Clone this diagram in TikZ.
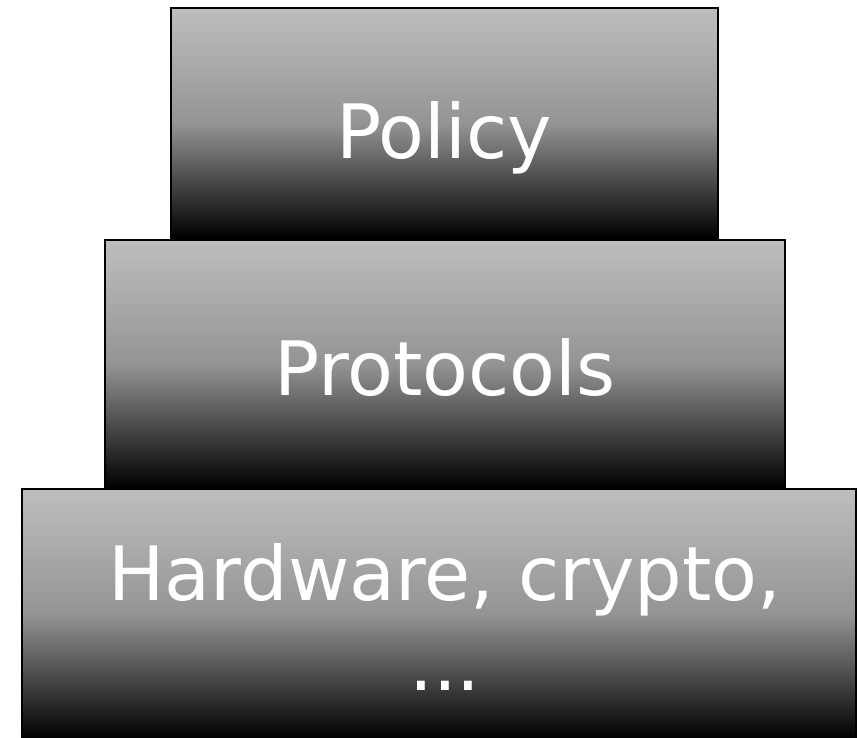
\documentclass[tikz,border=0pt]{standalone}
\usepackage{fontspec}
\setmainfont{DejaVu Sans}
\usepackage{xcolor}
\definecolor{layertop}{RGB}{190,190,190}
\definecolor{layermid}{RGB}{148,148,148}
\tikzset{
    layer-box/.style = {draw=black, line width=2pt, rectangle, inner sep=0pt, outer sep=0pt, anchor=north west,
        top color=layertop, bottom color=black, middle color=layermid},
    layer-title/.style = {text=white, anchor=base, align=center, inner sep=0pt, font=\fontsize{75}{90}\selectfont},
}

\begin{document}
\begin{tikzpicture}[x=1pt, y=-1pt]
\useasboundingbox (0,0) rectangle (858,737);
\node [layer-box, minimum width=547pt, minimum height=230pt] (policy) at (171,8) {};
\node [layer-box, minimum width=680pt, minimum height=248pt] (protocols) at (105,240) {};
\node [layer-box, minimum width=834pt, minimum height=250pt] (hardware) at (22,489) {};
\node[layer-title] (policy-title) at (444,158) {Policy};
\node[layer-title] (protocols-title) at (445,395) {Protocols};
\node[layer-title] (hardware-title) at (445,690) {Hardware, crypto,\\...};
\end{tikzpicture}
\end{document}
